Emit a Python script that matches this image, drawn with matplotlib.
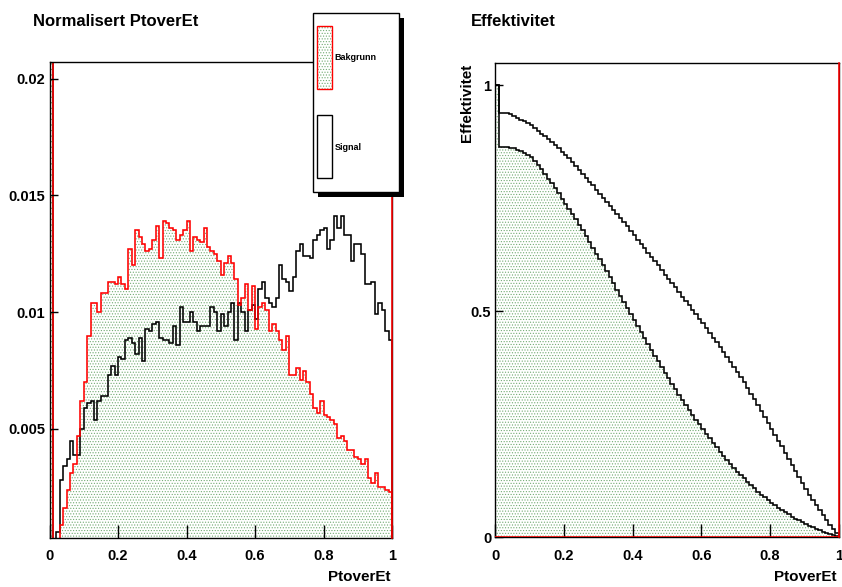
import numpy as np
import matplotlib
matplotlib.use("Agg")
import matplotlib.pyplot as plt
from matplotlib.patches import Rectangle
from matplotlib.ticker import FormatStrFormatter

plt.rcParams["font.family"] = ["Liberation Sans", "DejaVu Sans"]
plt.rcParams["font.weight"] = "bold"
plt.rcParams["hatch.linewidth"] = 0.5

# 100 bins in PtoverEt, 0..1
n_bins = 100
bin_edges = np.linspace(0.0, 1.0, n_bins + 1)

# normalised background (Bakgrunn), first bin is far above the frame
bakgrunn = [
    0.137, 0.0000, 0.0002, 0.0009, 0.0016, 0.0024, 0.0031, 0.0035, 0.0047, 0.0062,
    0.0070, 0.0090, 0.0104, 0.0104, 0.0100, 0.0108, 0.0108, 0.0113, 0.0113, 0.0112,
    0.0115, 0.0112, 0.0110, 0.0127, 0.0120, 0.0135, 0.0132, 0.0129, 0.0126, 0.0127,
    0.0131, 0.0137, 0.0123, 0.0139, 0.0138, 0.0136, 0.0135, 0.0131, 0.0133, 0.0135,
    0.0139, 0.0126, 0.0132, 0.0131, 0.0130, 0.0136, 0.0128, 0.0126, 0.0125, 0.0122,
    0.0116, 0.0121, 0.0124, 0.0121, 0.0114, 0.0103, 0.0106, 0.0112, 0.0101, 0.0111,
    0.0093, 0.0102, 0.0104, 0.0101, 0.0092, 0.0095, 0.0092, 0.0088, 0.0084, 0.0090,
    0.0073, 0.0073, 0.0076, 0.0071, 0.0075, 0.0070, 0.0065, 0.0059, 0.0057, 0.0062,
    0.0056, 0.0055, 0.0054, 0.0052, 0.0046, 0.0047, 0.0045, 0.0041, 0.0041, 0.0038,
    0.0037, 0.0035, 0.0037, 0.0029, 0.0027, 0.0031, 0.0025, 0.0025, 0.0024, 0.0023,
]

# normalised signal
signal = [
    0.061, 0.0001, 0.0006, 0.0028, 0.0034, 0.0037, 0.0045, 0.0039, 0.0039, 0.0050,
    0.0059, 0.0061, 0.0062, 0.0054, 0.0062, 0.0064, 0.0064, 0.0073, 0.0077, 0.0073,
    0.0081, 0.0080, 0.0088, 0.0089, 0.0087, 0.0082, 0.0089, 0.0079, 0.0093, 0.0092,
    0.0095, 0.0096, 0.0089, 0.0088, 0.0088, 0.0087, 0.0094, 0.0086, 0.0102, 0.0096,
    0.0096, 0.0100, 0.0096, 0.0092, 0.0094, 0.0094, 0.0094, 0.0102, 0.0100, 0.0092,
    0.0099, 0.0094, 0.0100, 0.0104, 0.0088, 0.0104, 0.0100, 0.0092, 0.0101, 0.0103,
    0.0097, 0.0110, 0.0113, 0.0106, 0.0104, 0.0102, 0.0106, 0.0120, 0.0114, 0.0113,
    0.0109, 0.0115, 0.0126, 0.0129, 0.0124, 0.0124, 0.0123, 0.0131, 0.0133, 0.0135,
    0.0136, 0.0127, 0.0131, 0.0141, 0.0136, 0.0141, 0.0133, 0.0133, 0.0122, 0.0129,
    0.0129, 0.0125, 0.0112, 0.0112, 0.0113, 0.0099, 0.0104, 0.0101, 0.0092, 0.0088,
]

left_yticks = [0.005, 0.01, 0.015, 0.02]
right_yticks = [0, 0.5, 1]
xticks = [0, 0.2, 0.4, 0.6, 0.8, 1]

# efficiency = fraction of events at or above the cut
bkg = np.asarray(bakgrunn)
sig = np.asarray(signal)
eff_bkg = np.cumsum(bkg[::-1])[::-1] / bkg.sum()
eff_sig = np.cumsum(sig[::-1])[::-1] / sig.sum()

W, H = 842, 587
dot_green = "#74ac74"
lw = 1.15

fig = plt.figure(figsize=(W / 100, H / 100), dpi=100)
ax1 = fig.add_axes([49.5 / W, 49.5 / H, 342.5 / W, 475.2 / H])
ax2 = fig.add_axes([495.3 / W, 49.7 / H, 343.4 / W, 474.0 / H])


def style_axes(ax):
    for s in ax.spines.values():
        s.set_linewidth(1.0)
    ax.set_xlim(0, 1)
    ax.set_xticks(xticks)
    ax.xaxis.set_major_formatter(FormatStrFormatter("%g"))
    ax.yaxis.set_major_formatter(FormatStrFormatter("%g"))
    ax.tick_params(direction="in", width=1.0, labelsize=10.5, top=False, right=False)
    ax.tick_params(axis="x", length=9.5, pad=8.5)
    ax.tick_params(axis="y", length=6, pad=3)
    ax.set_xlabel("PtoverEt", fontsize=11, fontweight="bold", loc="right")
    ax.xaxis.set_label_coords(0.995, -0.068)


# ---------- left: normalised distributions ----------
ax1.stairs(bakgrunn, bin_edges, fill=True, facecolor="white", edgecolor=dot_green,
           hatch="......", linewidth=0)
ax1.stairs(signal, bin_edges, color="black", linewidth=lw)
ax1.stairs(bakgrunn, bin_edges, color="red", linewidth=lw)
ax1.axvline(1.0, color="red", linewidth=lw, zorder=3, clip_on=False)
ax1.set_ylim(0.00035, 0.0207)
ax1.set_yticks(left_yticks)
style_axes(ax1)

# ---------- right: efficiency ----------
ax2.stairs(eff_bkg, bin_edges, fill=True, facecolor="white", edgecolor=dot_green,
           hatch="......", linewidth=0)
ax2.stairs(eff_bkg, bin_edges, color="black", linewidth=lw)
ax2.stairs(eff_sig, bin_edges, color="black", linewidth=lw)
ax2.axhline(0.0, color="red", linewidth=lw, zorder=3)
ax2.axvline(1.0, color="red", linewidth=lw, zorder=3, clip_on=False)
ax2.set_ylim(0, 1.0487)
ax2.set_yticks(right_yticks)
style_axes(ax2)
ax2.set_ylabel("Effektivitet", fontsize=11, fontweight="bold", loc="top")
ax2.yaxis.set_label_coords(-0.063, 1.0)

# pad titles
fig.text(33.3 / W, 1 - 21.5 / H, "Normalisert PtoverEt", fontsize=12, fontweight="bold",
         ha="left", va="center")
fig.text(470.7 / W, 1 - 21.5 / H, "Effektivitet", fontsize=12, fontweight="bold",
         ha="left", va="center")


# legend box (ROOT style, with drop shadow)
def rect_px(x0, y0, x1, y1, **kw):
    return Rectangle((x0 / W, 1 - y1 / H), (x1 - x0) / W, (y1 - y0) / H,
                     transform=fig.transFigure, **kw)


fig.add_artist(rect_px(318.3, 17.7, 404.3, 196.7, facecolor="black", edgecolor="none"))
fig.add_artist(rect_px(313.3, 12.7, 399.3, 191.7, facecolor="white", edgecolor="black", linewidth=1.0))
fig.add_artist(rect_px(316.7, 26, 331.7, 89.3, facecolor="white", edgecolor=dot_green,
                       hatch="......", linewidth=0))
fig.add_artist(rect_px(316.7, 26, 331.7, 89.3, facecolor="none", edgecolor="red", linewidth=1.0))
fig.add_artist(rect_px(316.7, 115, 331.7, 178.3, facecolor="white", edgecolor="black", linewidth=1.0))
fig.text(334.3 / W, 1 - 57.3 / H, "Bakgrunn", fontsize=6.5, fontweight="bold", ha="left", va="center")
fig.text(334.3 / W, 1 - 147.3 / H, "Signal", fontsize=6.5, fontweight="bold", ha="left", va="center")

fig.savefig("out.png", dpi=100)
